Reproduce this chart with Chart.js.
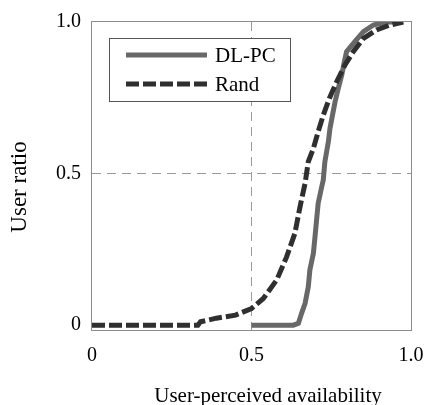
<!DOCTYPE html>
<html>
<head>
<meta charset="utf-8">
<script src="https://cdn.jsdelivr.net/npm/chart.js@4/dist/chart.umd.min.js"></script>
<style>
	body{margin:0;background:#fff;}
	#wrap{width:426px;height:405px;}
</style>
</head>
<body>
<div id="wrap"><canvas id="availChart" width="426" height="405"></canvas></div>
<script>
// CDF of user-perceived availability
const seriesNames = ["DL-PC", "Rand"];

const dlpcX = [0.50, 0.631, 0.647, 0.657, 0.668, 0.678, 0.683, 0.694, 0.699, 0.704,
               0.709, 0.720, 0.725, 0.730, 0.741, 0.746, 0.754, 0.762, 0.772, 0.783,
               0.791, 0.798, 0.824, 0.851, 0.882, 0.924, 0.95];
const dlpcY = [0, 0, 0.006, 0.039, 0.072, 0.126, 0.182, 0.237, 0.291, 0.347,
               0.402, 0.456, 0.479, 0.539, 0.605, 0.649, 0.693, 0.737, 0.781, 0.825,
               0.869, 0.902, 0.935, 0.968, 0.99, 1.0, 1.0];

const randX = [0, 0.332, 0.34, 0.39, 0.45, 0.50, 0.537, 0.579, 0.610, 0.636,
               0.652, 0.668, 0.678, 0.694, 0.709, 0.725, 0.744, 0.767, 0.793, 0.819,
               0.851, 0.892, 0.934, 0.976];
const randY = [0, 0, 0.011, 0.023, 0.033, 0.055, 0.088, 0.149, 0.225, 0.303,
               0.390, 0.468, 0.539, 0.583, 0.638, 0.693, 0.748, 0.803, 0.858, 0.902,
               0.946, 0.974, 0.99, 1.0];

const tickVals = [0, 0.5, 1.0];
const tickText = ["0", "0.5", "1.0"];

const xTitle = "User-perceived availability";
const yTitle = "User ratio";

const serif = "'Liberation Serif', 'Times New Roman', serif";

function toPoints(xs, ys){
	return xs.map(function(x, i){ return {x: x, y: ys[i]}; });
}//end toPoints

function fixTicks(scale){ //only 0, 0.5, 1.0
	scale.ticks = tickVals.map(function(v){ return {value: v}; });
}//end fixTicks

function tickLabel(v){
	var i = tickVals.indexOf(v);
	return i >= 0 ? tickText[i] : "";
}//end tickLabel

function gridColour(ctx){ //only the 0.5 lines are shown
	return (ctx.tick && ctx.tick.value === 0.5) ? "#9a9a9a" : "rgba(0,0,0,0)";
}//end gridColour

//frame round the plot + axis titles
const framePlugin = {
	id: "frame",
	beforeDatasetsDraw: function(chart){
		var a = chart.chartArea, c = chart.ctx;
		c.save();
		c.strokeStyle = "#8c8c8c";
		c.lineWidth = 1;
		c.strokeRect(Math.round(a.left) - 0.5, Math.round(a.top) - 0.5, a.right - a.left + 1, a.bottom - a.top + 1);
		c.restore();
	},
	afterDraw: function(chart){
		var c = chart.ctx;
		c.save();
		c.fillStyle = "#000";
		c.font = "21px " + serif;
		c.textAlign = "center";
		c.textBaseline = "alphabetic";
		c.fillText(xTitle, 268, 402);
		c.font = "23px " + serif;
		c.translate(20, 187);
		c.rotate(-Math.PI / 2);
		c.textBaseline = "middle";
		c.fillText(yTitle, 0, 0);
		c.restore();
	}
};//end framePlugin

//boxed legend inside the plot, top left
const boxLegend = {
	id: "boxLegend",
	afterDatasetsDraw: function(chart){
		var c = chart.ctx;
		var rows = [55, 84];
		c.save();
		c.fillStyle = "#fff";
		c.fillRect(109.5, 38.5, 181, 63);
		c.strokeStyle = "#555";
		c.lineWidth = 1;
		c.strokeRect(109.5, 38.5, 181, 63);
		chart.data.datasets.forEach(function(ds, i){
			c.beginPath();
			c.lineWidth = ds.borderWidth;
			c.strokeStyle = ds.borderColor;
			c.lineCap = "butt";
			c.setLineDash(ds.borderDash || []);
			c.moveTo(126, rows[i]);
			c.lineTo(207, rows[i]);
			c.stroke();
			c.setLineDash([]);
			c.fillStyle = "#000";
			c.font = "21px " + serif;
			c.textAlign = "left";
			c.textBaseline = "middle";
			c.fillText(ds.label, 215, rows[i] + 1.5);
		});
		c.restore();
	}
};//end boxLegend

const availChart = new Chart("availChart", {
	type: "scatter",
	data: {
		datasets: [
			{
				label: seriesNames[0],
				data: toPoints(dlpcX, dlpcY),
				showLine: true,
				borderColor: "#686868",
				backgroundColor: "#686868",
				borderWidth: 5,
				pointRadius: 0,
				tension: 0,
				order: 1
			},
			{
				label: seriesNames[1],
				data: toPoints(randX, randY),
				showLine: true,
				borderColor: "#2f2f2f",
				backgroundColor: "#2f2f2f",
				borderWidth: 5,
				borderDash: [13, 4],
				borderCapStyle: "butt",
				pointRadius: 0,
				tension: 0,
				order: 0
			}
		]
	},
	options: {
		responsive: false,
		animation: false,
		devicePixelRatio: 1,
		layout: {padding: {left: 0, right: 15, top: 22, bottom: 0}},
		plugins: {
			legend: {display: false},
			tooltip: {enabled: false}
		},
		scales: {
			x: {
				type: "linear",
				min: 0,
				max: 1,
				afterBuildTicks: fixTicks,
				afterFit: function(s){ s.height = 75; s.paddingLeft = 0; s.paddingRight = 0; },
				grid: {color: gridColour, drawTicks: false, lineWidth: 1},
				border: {display: false, dash: [9, 6]},
				ticks: {
					padding: 14,
					color: "#000",
					font: {family: serif, size: 20},
					maxRotation: 0,
					callback: tickLabel
				}
			},
			y: {
				min: -0.016,
				max: 1,
				afterBuildTicks: fixTicks,
				afterFit: function(s){ s.width = 92; s.paddingTop = 0; s.paddingBottom = 0; },
				grid: {color: gridColour, drawTicks: false, lineWidth: 1},
				border: {display: false, dash: [9, 6]},
				ticks: {
					padding: 11,
					color: "#000",
					font: {family: serif, size: 20},
					callback: tickLabel
				}
			}
		}
	},
	plugins: [framePlugin, boxLegend]
});//end chart
</script>
</body>
</html>
